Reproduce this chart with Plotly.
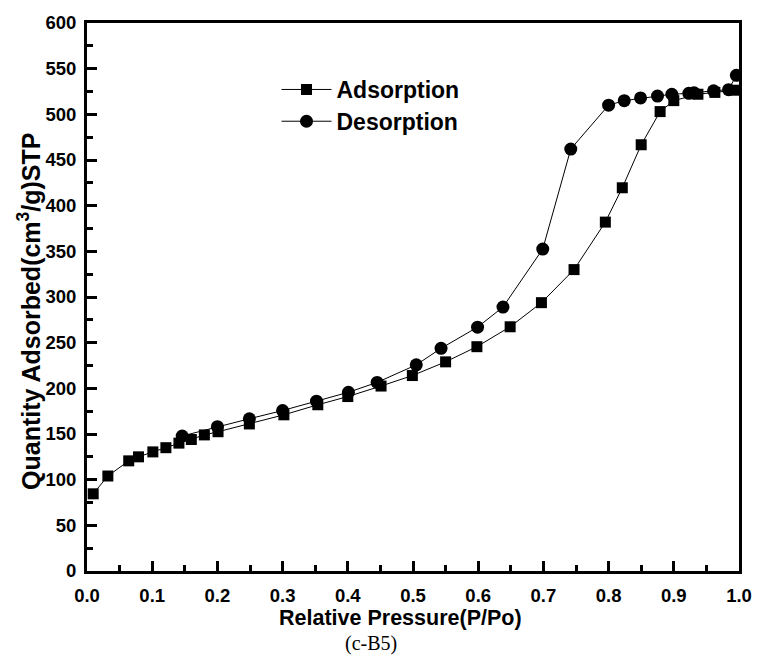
import plotly.graph_objects as go

ads_x = [0.0095, 0.032, 0.064, 0.079, 0.101, 0.121, 0.141, 0.160, 0.180, 0.201, 0.249, 0.302,
         0.354, 0.400, 0.451, 0.499, 0.550, 0.598, 0.649, 0.697, 0.747, 0.795, 0.821, 0.850,
         0.879, 0.900, 0.937, 0.963, 0.993]
ads_y = [84.5, 104, 120.6, 125, 130.4, 135, 140, 144, 149, 152.5, 161, 171,
         182, 191, 202.5, 214, 229, 245.6, 267.4, 293.8, 330, 382, 419.6, 466.7,
         503, 515, 522, 524, 526.4]

des_x = [0.996, 0.984, 0.961, 0.931, 0.923, 0.897, 0.875, 0.849, 0.824, 0.800, 0.742, 0.699,
         0.638, 0.599, 0.543, 0.505, 0.445, 0.401, 0.352, 0.300, 0.249, 0.200, 0.146]
des_y = [542.7, 527, 525.8, 523.6, 523, 522, 520, 518, 515, 510, 462, 352.5,
         289, 267, 243.8, 225.7, 206.5, 195.7, 185.9, 175.7, 166.7, 158, 147.8]

x_ticks = [0.0, 0.1, 0.2, 0.3, 0.4, 0.5, 0.6, 0.7, 0.8, 0.9, 1.0]
y_ticks = list(range(0, 601, 50))

FONT = "Liberation Sans"

fig = go.Figure()
fig.add_trace(go.Scatter(
    x=ads_x, y=ads_y, mode="lines+markers", name="<b>Adsorption</b>",
    line=dict(color="black", width=1),
    marker=dict(symbol="square", size=11, color="black"),
    legend="legend",
))
fig.add_trace(go.Scatter(
    x=des_x, y=des_y, mode="lines+markers", name="<b>Desorption</b>",
    line=dict(color="black", width=1),
    marker=dict(symbol="circle", size=13, color="black"),
    legend="legend2",
))

axis_common = dict(
    showline=True, linecolor="black", linewidth=3, mirror=True,
    ticks="inside", ticklen=10, tickwidth=2.5, tickcolor="black",
    showgrid=False, zeroline=False,
    tickfont=dict(family=FONT, size=18.5, color="black", weight="bold"),
)

fig.update_xaxes(
    range=[0, 1.0], tickvals=x_ticks, ticktext=[f"<b>{v:.1f}</b>" for v in x_ticks],
    minor=dict(ticks="inside", ticklen=6, tickwidth=2.5, tickcolor="black", dtick=0.05, tick0=0),
    ticklabelstandoff=6,
    **axis_common,
)
fig.update_yaxes(
    range=[0, 600], tickvals=y_ticks, ticktext=[f"<b>{v}</b>" for v in y_ticks],
    minor=dict(ticks="inside", ticklen=6, tickwidth=2.5, tickcolor="black", dtick=25, tick0=0),
    ticklabelstandoff=4,
    **axis_common,
)

# axis titles and caption
fig.add_annotation(
    text="<b>Relative Pressure(P/Po)</b>", xref="paper", yref="paper",
    x=(406 - 87) / 664, y=(571 - 618) / 552, xanchor="center", yanchor="middle",
    showarrow=False, font=dict(family=FONT, size=21.5, color="black"),
)
fig.add_annotation(
    text="<b>Quantity Adsorbed(cm<sup>3</sup>/g)STP</b>", xref="paper", yref="paper",
    x=(28 - 87) / 664, y=(571 - 310) / 552, xanchor="center", yanchor="middle",
    textangle=-90, showarrow=False, font=dict(family=FONT, size=25, color="black"),
)
fig.add_annotation(
    text="(c-B5)", xref="paper", yref="paper",
    x=(376 - 87) / 664, y=(571 - 644) / 552, xanchor="center", yanchor="middle",
    showarrow=False, font=dict(family="Liberation Serif", size=20, color="black"),
)

leg_common = dict(xanchor="left", yanchor="middle", bgcolor="rgba(0,0,0,0)",
                  itemwidth=50,
                  font=dict(family=FONT, size=23, color="black"))
fig.update_layout(
    width=764, height=662,
    margin=dict(l=87, r=13, t=19, b=91),
    paper_bgcolor="white", plot_bgcolor="white",
    showlegend=True,
    legend=dict(x=(280 - 87) / 664, y=(571 - 86) / 552, **leg_common),
    legend2=dict(x=(280 - 87) / 664, y=(571 - 118) / 552, **leg_common),
)

fig.write_html("out.html")
